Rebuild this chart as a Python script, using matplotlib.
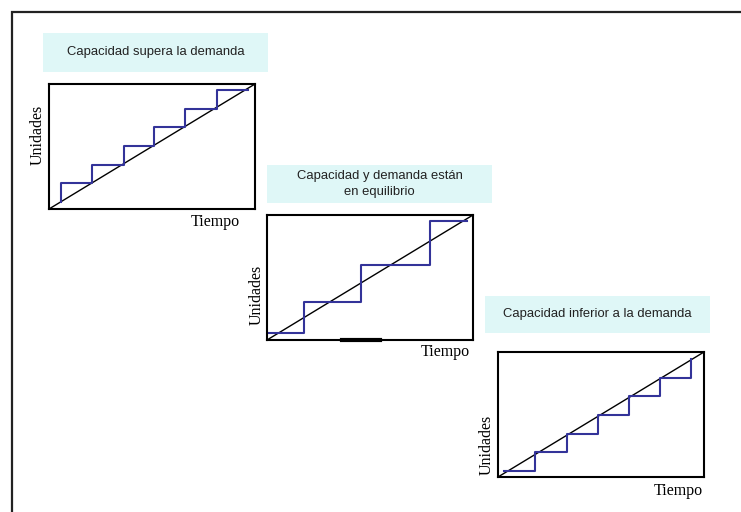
import matplotlib
matplotlib.use('Agg')
import matplotlib.pyplot as plt
from matplotlib.patches import Rectangle

W, H = 741, 512

# step curves (fraction of each box)
p1_x = [0.06, 0.209, 0.362, 0.51, 0.662, 0.814, 0.966]
p1_y = [0.06, 0.207, 0.356, 0.505, 0.654, 0.803, 0.952]
p2_x = [0.0, 0.182, 0.455, 0.79, 0.971]
p2_y = [0.053, 0.301, 0.6, 0.952, 0.952]
p3_x = [0.027, 0.18, 0.334, 0.485, 0.637, 0.787, 0.939]
p3_y = [0.05, 0.199, 0.347, 0.496, 0.645, 0.793, 0.942]

titles = ['Capacidad supera la demanda',
          'Capacidad y demanda están\nen equilibrio',
          'Capacidad inferior a la demanda']
xlabel = 'Tiempo'
ylabel = 'Unidades'

blue = '#333399'
cyan = '#DFF7F7'
serif = ['Liberation Serif', 'DejaVu Serif']
sans = ['Liberation Sans', 'DejaVu Sans']

fig = plt.figure(figsize=(W / 100, H / 100), dpi=100)


def px_axes(x0, y0, x1, y1):
    # pixel box (top-left origin) -> figure axes
    return fig.add_axes([x0 / W, 1 - y1 / H, (x1 - x0) / W, (y1 - y0) / H])


# outer frame, only top and left visible
fig.add_artist(Rectangle((12 / W, -0.1), 1.2, 1 - 12 / H + 0.1, transform=fig.transFigure,
                         fill=False, lw=1.6, ec='#222222'))

panels = [
    dict(box=(49, 84, 255, 209), tbox=(43, 33, 268, 72), x=p1_x, y=p1_y, where='pre',
         tx=240, ty=222, ux=38, uy=135),
    dict(box=(267, 215, 473, 340), tbox=(267, 165, 492, 203), x=p2_x, y=p2_y, where='post',
         tx=470, ty=352, ux=257, uy=295),
    dict(box=(498, 352, 704, 477), tbox=(485, 296, 710, 333), x=p3_x, y=p3_y, where='post',
         tx=703, ty=491, ux=487, uy=445),
]

for p, title in zip(panels, titles):
    # title banner
    tx0, ty0, tx1, ty1 = p['tbox']
    fig.add_artist(Rectangle((tx0 / W, 1 - ty1 / H), (tx1 - tx0) / W, (ty1 - ty0) / H,
                             transform=fig.transFigure, fc=cyan, ec='none'))
    fig.text((tx0 + tx1) / 2 / W, 1 - (ty0 + ty1) / 2 / H, title, ha='center', va='center',
             fontsize=9.4, family=sans, color='#222222', linespacing=1.45)

    ax = px_axes(*p['box'])
    ax.plot([0, 1], [0, 1], color='black', lw=1.0)
    ax.step(p['x'], p['y'], where=p['where'], color=blue, lw=1.5)
    ax.set_xlim(0, 1)
    ax.set_ylim(0, 1)
    ax.set_xticks([])
    ax.set_yticks([])
    for s in ax.spines.values():
        s.set_linewidth(1.5)
        s.set_color('black')

    fig.text(p['tx'] / W, 1 - p['ty'] / H, xlabel, ha='right', va='center',
             fontsize=11.5, family=serif)
    fig.text(p['ux'] / W, 1 - p['uy'] / H, ylabel, ha='center', va='center',
             rotation=90, fontsize=11.5, family=serif)

    if p['x'] is p2_x:
        ax.plot([0.363, 0.548], [0, 0], color='black', lw=3, clip_on=False)

fig.savefig('out.png', dpi=100)
